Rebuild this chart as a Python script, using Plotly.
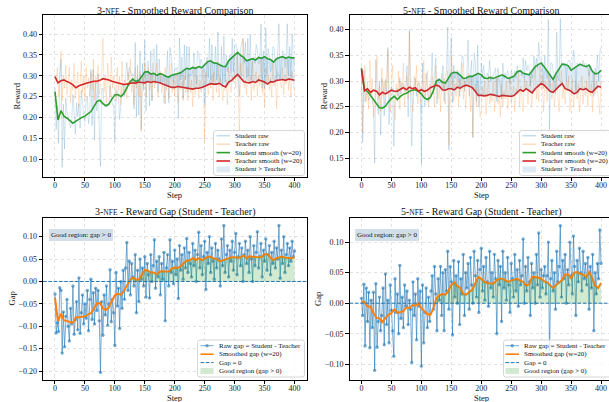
import plotly.graph_objects as go

W, H = 609, 402
FONT = "Liberation Serif"

# ---------------- data ----------------
steps_raw = list(range(0, 401, 2))
steps_smooth = list(range(0, 401, 5))

student_raw_3 = [
    0.272, 0.170, 0.228, 0.138, 0.296, 0.340, 0.080, 0.232, 0.124, 0.247,
    0.215, 0.200, 0.187, 0.175, 0.195, 0.255, 0.212, 0.160, 0.235, 0.202,
    0.233, 0.174, 0.265, 0.230, 0.205, 0.190, 0.238, 0.250, 0.185, 0.210,
    0.315, 0.180, 0.315, 0.145, 0.285, 0.215, 0.305, 0.167, 0.082, 0.270,
    0.270, 0.230, 0.225, 0.225, 0.232, 0.230, 0.276, 0.255, 0.230, 0.230,
    0.142, 0.260, 0.265, 0.250, 0.195, 0.230, 0.275, 0.280, 0.250, 0.300,
    0.332, 0.290, 0.320, 0.310, 0.300, 0.305, 0.220, 0.380, 0.200, 0.325,
    0.205, 0.360, 0.170, 0.330, 0.265, 0.385, 0.215, 0.330, 0.335, 0.228,
    0.360, 0.240, 0.365, 0.363, 0.280, 0.375, 0.260, 0.340, 0.280, 0.300,
    0.285, 0.300, 0.232, 0.295, 0.360, 0.235, 0.368, 0.350, 0.305, 0.285,
    0.320, 0.315, 0.320, 0.197, 0.390, 0.290, 0.345, 0.245, 0.375, 0.290,
    0.371, 0.260, 0.370, 0.300, 0.300, 0.310, 0.355, 0.325, 0.280, 0.360,
    0.355, 0.320, 0.340, 0.330, 0.325, 0.230, 0.292, 0.345, 0.295, 0.390,
    0.290, 0.375, 0.285, 0.315, 0.370, 0.290, 0.405, 0.300, 0.285, 0.370,
    0.275, 0.395, 0.285, 0.350, 0.310, 0.330, 0.350, 0.305, 0.390, 0.310,
    0.375, 0.377, 0.365, 0.295, 0.250, 0.365, 0.375, 0.390, 0.330, 0.380,
    0.295, 0.390, 0.300, 0.400, 0.290, 0.335, 0.345, 0.330, 0.375, 0.361,
    0.330, 0.330, 0.425, 0.270, 0.360, 0.270, 0.415, 0.305, 0.365, 0.345,
    0.310, 0.315, 0.370, 0.365, 0.330, 0.295, 0.360, 0.425, 0.292, 0.340,
    0.360, 0.355, 0.320, 0.340, 0.425, 0.300, 0.370, 0.295, 0.400, 0.340,
    0.328]
teacher_raw_3 = [
    0.300, 0.285, 0.320, 0.250, 0.310, 0.360, 0.240, 0.300, 0.270, 0.325,
    0.255, 0.300, 0.320, 0.235, 0.290, 0.265, 0.330, 0.245, 0.280, 0.310,
    0.225, 0.290, 0.335, 0.260, 0.300, 0.240, 0.320, 0.270, 0.295, 0.250,
    0.310, 0.265, 0.340, 0.240, 0.300, 0.280, 0.325, 0.255, 0.285, 0.315,
    0.390, 0.260, 0.300, 0.235, 0.330, 0.280, 0.250, 0.345, 0.270, 0.300,
    0.285, 0.240, 0.320, 0.265, 0.300, 0.230, 0.335, 0.255, 0.290, 0.270,
    0.245, 0.310, 0.275, 0.340, 0.260, 0.295, 0.230, 0.320, 0.270, 0.300,
    0.250, 0.310, 0.165, 0.300, 0.275, 0.330, 0.250, 0.290, 0.320, 0.265,
    0.300, 0.240, 0.330, 0.270, 0.295, 0.330, 0.250, 0.285, 0.310, 0.260,
    0.280, 0.235, 0.320, 0.265, 0.300, 0.245, 0.275, 0.330, 0.260, 0.290,
    0.250, 0.300, 0.270, 0.235, 0.310, 0.265, 0.285, 0.240, 0.300, 0.260,
    0.275, 0.240, 0.305, 0.260, 0.290, 0.225, 0.320, 0.255, 0.280, 0.300,
    0.245, 0.290, 0.260, 0.315, 0.270, 0.140, 0.310, 0.280, 0.255, 0.290,
    0.270, 0.300, 0.240, 0.310, 0.285, 0.260, 0.335, 0.250, 0.295, 0.275,
    0.240, 0.270, 0.265, 0.290, 0.230, 0.320, 0.280, 0.260, 0.300, 0.285,
    0.310, 0.270, 0.350, 0.240, 0.165, 0.330, 0.300, 0.390, 0.270, 0.290,
    0.255, 0.320, 0.280, 0.300, 0.240, 0.335, 0.265, 0.295, 0.310, 0.250,
    0.300, 0.275, 0.340, 0.260, 0.290, 0.225, 0.320, 0.280, 0.305, 0.265,
    0.295, 0.250, 0.330, 0.275, 0.300, 0.220, 0.310, 0.300, 0.285, 0.270,
    0.320, 0.255, 0.300, 0.280, 0.340, 0.265, 0.295, 0.250, 0.310, 0.285,
    0.260]
student_smooth_3 = [
    0.262, 0.194, 0.216, 0.203, 0.198, 0.192, 0.186, 0.191, 0.196, 0.200,
    0.203, 0.209, 0.214, 0.226, 0.238, 0.241, 0.233, 0.228, 0.232, 0.244,
    0.254, 0.255, 0.250, 0.257, 0.272, 0.285, 0.292, 0.286, 0.289, 0.300,
    0.309, 0.310, 0.304, 0.306, 0.301, 0.305, 0.303, 0.299, 0.297, 0.301,
    0.303, 0.304, 0.307, 0.313, 0.318, 0.316, 0.320, 0.318, 0.322, 0.319,
    0.326, 0.334, 0.336, 0.331, 0.330, 0.327, 0.323, 0.322, 0.336, 0.343,
    0.350, 0.356, 0.349, 0.344, 0.336, 0.339, 0.341, 0.338, 0.344, 0.342,
    0.346, 0.341, 0.339, 0.333, 0.341, 0.344, 0.346, 0.342, 0.345, 0.343,
    0.343]
teacher_smooth_3 = [
    0.298, 0.283, 0.288, 0.290, 0.286, 0.283, 0.278, 0.271, 0.276, 0.279,
    0.281, 0.283, 0.285, 0.287, 0.287, 0.289, 0.293, 0.292, 0.290, 0.287,
    0.285, 0.282, 0.280, 0.279, 0.280, 0.282, 0.283, 0.282, 0.285, 0.284,
    0.283, 0.286, 0.284, 0.286, 0.285, 0.283, 0.280, 0.277, 0.275, 0.272,
    0.272, 0.274, 0.273, 0.272, 0.271, 0.269, 0.268, 0.270, 0.270, 0.272,
    0.275, 0.279, 0.281, 0.280, 0.280, 0.282, 0.276, 0.273, 0.285, 0.289,
    0.296, 0.303, 0.295, 0.286, 0.284, 0.283, 0.286, 0.284, 0.290, 0.287,
    0.285, 0.280, 0.286, 0.285, 0.289, 0.290, 0.291, 0.289, 0.292, 0.291,
    0.289]

student_raw_5 = [
    0.328, 0.180, 0.321, 0.260, 0.285, 0.270, 0.263, 0.267, 0.280, 0.265,
    0.248, 0.140, 0.342, 0.278, 0.235, 0.300, 0.195, 0.305, 0.295, 0.232,
    0.303, 0.275, 0.365, 0.215, 0.270, 0.288, 0.285, 0.173, 0.265, 0.280,
    0.285, 0.270, 0.307, 0.275, 0.295, 0.295, 0.280, 0.285, 0.330, 0.230,
    0.400, 0.270, 0.173, 0.275, 0.290, 0.305, 0.270, 0.295, 0.295, 0.290,
    0.137, 0.335, 0.275, 0.250, 0.315, 0.280, 0.260, 0.265, 0.295, 0.355,
    0.275, 0.310, 0.345, 0.255, 0.305, 0.295, 0.300, 0.295, 0.330, 0.260,
    0.310, 0.320, 0.405, 0.165, 0.350, 0.385, 0.258, 0.330, 0.305, 0.315,
    0.320, 0.318, 0.270, 0.320, 0.350, 0.345, 0.280, 0.295, 0.315, 0.380,
    0.270, 0.315, 0.340, 0.190, 0.355, 0.340, 0.260, 0.370, 0.250, 0.285,
    0.335, 0.310, 0.330, 0.305, 0.310, 0.315, 0.305, 0.340, 0.300, 0.310,
    0.310, 0.320, 0.325, 0.260, 0.325, 0.300, 0.290, 0.265, 0.335, 0.305,
    0.315, 0.305, 0.320, 0.310, 0.295, 0.320, 0.310, 0.300, 0.320, 0.305,
    0.330, 0.315, 0.320, 0.320, 0.310, 0.345, 0.305, 0.340, 0.320, 0.330,
    0.325, 0.290, 0.315, 0.305, 0.350, 0.320, 0.345, 0.325, 0.375, 0.340,
    0.340, 0.335, 0.285, 0.350, 0.315, 0.305, 0.420, 0.205, 0.335, 0.335,
    0.320, 0.300, 0.275, 0.395, 0.305, 0.300, 0.422, 0.330, 0.335, 0.330,
    0.335, 0.300, 0.335, 0.340, 0.340, 0.320, 0.320, 0.360, 0.345, 0.280,
    0.335, 0.330, 0.330, 0.330, 0.330, 0.340, 0.330, 0.335, 0.330, 0.325,
    0.310, 0.330, 0.320, 0.320, 0.270, 0.325, 0.315, 0.350, 0.300, 0.355,
    0.365]
teacher_raw_5 = [
    0.320, 0.200, 0.290, 0.330, 0.260, 0.300, 0.245, 0.340, 0.275, 0.305,
    0.230, 0.250, 0.310, 0.350, 0.265, 0.290, 0.240, 0.325, 0.270, 0.300,
    0.255, 0.310, 0.360, 0.280, 0.240, 0.300, 0.330, 0.260, 0.225, 0.295,
    0.270, 0.320, 0.245, 0.300, 0.285, 0.335, 0.250, 0.290, 0.310, 0.265,
    0.395, 0.280, 0.270, 0.240, 0.310, 0.290, 0.330, 0.255, 0.300, 0.270,
    0.240, 0.305, 0.340, 0.265, 0.290, 0.320, 0.250, 0.295, 0.275, 0.310,
    0.285, 0.250, 0.330, 0.300, 0.265, 0.290, 0.240, 0.315, 0.280, 0.305,
    0.255, 0.300, 0.320, 0.175, 0.290, 0.350, 0.310, 0.260, 0.295, 0.270,
    0.320, 0.250, 0.305, 0.280, 0.335, 0.265, 0.300, 0.245, 0.290, 0.315,
    0.280, 0.240, 0.310, 0.190, 0.270, 0.295, 0.250, 0.300, 0.265, 0.230,
    0.245, 0.290, 0.270, 0.300, 0.235, 0.280, 0.310, 0.255, 0.275, 0.260,
    0.300, 0.240, 0.285, 0.310, 0.255, 0.270, 0.230, 0.295, 0.250, 0.280,
    0.265, 0.300, 0.245, 0.280, 0.310, 0.255, 0.270, 0.290, 0.240, 0.285,
    0.275, 0.320, 0.250, 0.290, 0.265, 0.240, 0.305, 0.280, 0.300, 0.255,
    0.290, 0.310, 0.250, 0.280, 0.300, 0.320, 0.265, 0.295, 0.260, 0.330,
    0.285, 0.310, 0.240, 0.290, 0.300, 0.260, 0.320, 0.290, 0.295, 0.265,
    0.300, 0.250, 0.285, 0.310, 0.270, 0.240, 0.295, 0.320, 0.265, 0.290,
    0.255, 0.300, 0.280, 0.310, 0.240, 0.275, 0.305, 0.250, 0.285, 0.300,
    0.265, 0.295, 0.240, 0.280, 0.310, 0.255, 0.290, 0.270, 0.300, 0.250,
    0.320, 0.270, 0.295, 0.240, 0.315, 0.275, 0.300, 0.285, 0.260, 0.235,
    0.300]
student_smooth_5 = [
    0.325, 0.283, 0.280, 0.272, 0.266, 0.256, 0.248, 0.247, 0.251, 0.259,
    0.266, 0.270, 0.264, 0.270, 0.274, 0.276, 0.280, 0.282, 0.283, 0.280,
    0.275, 0.267, 0.264, 0.268, 0.281, 0.300, 0.303, 0.298, 0.296, 0.305,
    0.315, 0.317, 0.316, 0.311, 0.305, 0.306, 0.309, 0.309, 0.312, 0.315,
    0.312, 0.306, 0.305, 0.307, 0.305, 0.308, 0.310, 0.312, 0.308, 0.305,
    0.307, 0.310, 0.318, 0.320, 0.315, 0.314, 0.312, 0.320, 0.328, 0.332,
    0.335, 0.328, 0.319, 0.310, 0.303, 0.315, 0.324, 0.333, 0.332, 0.330,
    0.321, 0.325, 0.329, 0.333, 0.330, 0.328, 0.331, 0.320, 0.314, 0.315,
    0.321]
teacher_smooth_5 = [
    0.322, 0.281, 0.285, 0.278, 0.282, 0.280, 0.273, 0.278, 0.275, 0.278,
    0.282, 0.280, 0.280, 0.284, 0.287, 0.283, 0.288, 0.285, 0.287, 0.280,
    0.283, 0.280, 0.282, 0.287, 0.290, 0.292, 0.290, 0.283, 0.282, 0.285,
    0.285, 0.283, 0.288, 0.286, 0.290, 0.292, 0.290, 0.287, 0.280, 0.272,
    0.272, 0.271, 0.272, 0.274, 0.273, 0.271, 0.270, 0.272, 0.271, 0.270,
    0.270, 0.272, 0.278, 0.283, 0.280, 0.285, 0.281, 0.277, 0.285, 0.290,
    0.295, 0.292, 0.285, 0.280, 0.278, 0.285, 0.290, 0.295, 0.285, 0.283,
    0.280, 0.275, 0.278, 0.285, 0.283, 0.285, 0.280, 0.278, 0.285, 0.290,
    0.288]

x_ticks = [0, 50, 100, 150, 200, 250, 300, 350, 400]
reward_ticks_3 = [0.10, 0.15, 0.20, 0.25, 0.30, 0.35, 0.40]
reward_ticks_5 = [0.15, 0.20, 0.25, 0.30, 0.35, 0.40]
gap_ticks_3 = [-0.20, -0.15, -0.10, -0.05, 0.00, 0.05, 0.10]
gap_ticks_5 = [-0.10, -0.05, 0.00, 0.05, 0.10]

titles = ["3-<span style='font-size:7.5px'>NFE</span> - Smoothed Reward Comparison",
          "5-<span style='font-size:7.5px'>NFE</span> - Smoothed Reward Comparison",
          "3-<span style='font-size:7.5px'>NFE</span> - Reward Gap (Student - Teacher)",
          "5-<span style='font-size:7.5px'>NFE</span> - Reward Gap (Student - Teacher)"]

# ---------------- helpers ----------------
def X(p):
    return p / W


def Y(p):
    return 1 - p / H


C0 = '#1f77b4'
C1 = '#ff7f0e'
C2 = '#2ca02c'
C3 = '#d62728'
BLUE_RAW = 'rgba(31,119,180,0.2)'
ORANGE_RAW = 'rgba(255,127,14,0.2)'
BLUE_FILL = 'rgba(31,119,180,0.15)'
GREEN_FILL = 'rgba(44,160,44,0.22)'
GAP_COL = 'rgba(31,119,180,0.6)'
GRID = '#e2e2e2'


def runs(mask):
    out, start = [], None
    for i, m in enumerate(mask):
        if m and start is None:
            start = i
        if not m and start is not None:
            out.append((start, i - 1))
            start = None
    if start is not None:
        out.append((start, len(mask) - 1))
    return out


def band(xs, upper, lower, mask):
    bx, by = [], []
    for a, b in runs(mask):
        seg_x = xs[a:b + 1]
        bx += seg_x + seg_x[::-1] + [None]
        by += upper[a:b + 1] + lower[a:b + 1][::-1] + [None]
    return bx, by


fig = go.Figure()

# domains (pixels -> paper)
LX = [X(43), X(306.5)]
RX = [X(349.5), 1.0]
TY = [Y(176.7), Y(15)]
BY = [Y(380), Y(218.3)]

panels = [
    ('x', 'y', student_raw_3, teacher_raw_3, student_smooth_3, teacher_smooth_3),
    ('x2', 'y2', student_raw_5, teacher_raw_5, student_smooth_5, teacher_smooth_5),
]
for xa, ya, s_raw, t_raw, s_sm, t_sm in panels:
    fig.add_trace(go.Scatter(x=steps_raw, y=s_raw, mode='lines', xaxis=xa, yaxis=ya,
                             line=dict(color=BLUE_RAW, width=1), showlegend=False, hoverinfo='skip'))
    fig.add_trace(go.Scatter(x=steps_raw, y=t_raw, mode='lines', xaxis=xa, yaxis=ya,
                             line=dict(color=ORANGE_RAW, width=1), showlegend=False, hoverinfo='skip'))
    fig.add_trace(go.Scatter(x=steps_smooth, y=s_sm, mode='lines', xaxis=xa, yaxis=ya,
                             line=dict(color=C2, width=1.6), showlegend=False))
    fig.add_trace(go.Scatter(x=steps_smooth, y=t_sm, mode='lines', xaxis=xa, yaxis=ya,
                             line=dict(color=C3, width=1.6), showlegend=False))
    bx, by = band(steps_smooth, s_sm, t_sm, [a > b for a, b in zip(s_sm, t_sm)])
    fig.add_trace(go.Scatter(x=bx, y=by, mode='lines', fill='toself', fillcolor=BLUE_FILL,
                             line=dict(width=0, color='rgba(0,0,0,0)'), xaxis=xa, yaxis=ya,
                             showlegend=False, hoverinfo='skip'))

gap_panels = [
    ('x3', 'y3', student_raw_3, teacher_raw_3, student_smooth_3, teacher_smooth_3),
    ('x4', 'y4', student_raw_5, teacher_raw_5, student_smooth_5, teacher_smooth_5),
]
for xa, ya, s_raw, t_raw, s_sm, t_sm in gap_panels:
    gap_raw = [round(a - b, 4) for a, b in zip(s_raw, t_raw)]
    gap_sm = [round(a - b, 4) for a, b in zip(s_sm, t_sm)]
    fig.add_trace(go.Scatter(x=steps_raw, y=gap_raw, mode='lines+markers', xaxis=xa, yaxis=ya,
                             line=dict(color=GAP_COL, width=1),
                             marker=dict(color=GAP_COL, size=3.4, line=dict(width=0)),
                             showlegend=False))
    fig.add_trace(go.Scatter(x=steps_smooth, y=gap_sm, mode='lines', xaxis=xa, yaxis=ya,
                             line=dict(color=C1, width=2), showlegend=False))
    zeros = [0.0] * len(gap_sm)
    bx, by = band(steps_smooth, gap_sm, zeros, [g > 0 for g in gap_sm])
    fig.add_trace(go.Scatter(x=bx, y=by, mode='lines', fill='toself', fillcolor=GREEN_FILL,
                             line=dict(width=0, color='rgba(0,0,0,0)'), xaxis=xa, yaxis=ya,
                             showlegend=False, hoverinfo='skip'))
    fig.add_shape(type='line', xref=xa + ' domain', yref=ya, x0=0, x1=1, y0=0, y1=0,
                  line=dict(color=C0, width=1, dash='3.7px,1.6px'))

TICKFONT = dict(family=FONT, size=8, color='#222')


def xaxis(domain, rng, anchor):
    return dict(domain=domain, range=rng, anchor=anchor, tickvals=x_ticks, automargin=False,
                ticks='outside', ticklen=3.5, tickwidth=0.8, tickcolor='black',
                ticklabelstandoff=-3,
                showline=True, linecolor='black', linewidth=0.9, mirror=True,
                showgrid=True, gridcolor=GRID, griddash='dot', gridwidth=0.8,
                zeroline=False, tickfont=TICKFONT)


def yaxis(domain, rng, anchor, tickvals, mirror):
    return dict(domain=domain, range=rng, anchor=anchor, tickvals=tickvals, tickformat='.2f',
                automargin=False,
                ticks='outside', ticklen=3.5, tickwidth=0.8, tickcolor='black',
                showline=True, linecolor='black', linewidth=0.9, mirror=mirror,
                showgrid=True, gridcolor=GRID, griddash='dot', gridwidth=0.8,
                zeroline=False, tickfont=TICKFONT)


fig.update_layout(
    width=W, height=H, autosize=False,
    margin=dict(l=0, r=0, t=0, b=0),
    paper_bgcolor='white', plot_bgcolor='white',
    font=dict(family=FONT, color='#222'),
    showlegend=False,
    xaxis=xaxis(LX, [-20, 420], 'y'),
    yaxis=yaxis(TY, [0.0575, 0.446], 'x', reward_ticks_3, True),
    xaxis2=xaxis(RX, [-20, 413.3], 'y2'),
    yaxis2=yaxis(TY, [0.1136, 0.4286], 'x2', reward_ticks_5, False),
    xaxis3=xaxis(LX, [-20, 420], 'y3'),
    yaxis3=yaxis(BY, [-0.220, 0.141], 'x3', gap_ticks_3, True),
    xaxis4=xaxis(RX, [-20, 413.3], 'y4'),
    yaxis4=yaxis(BY, [-0.1257, 0.139], 'x4', gap_ticks_5, False),
)

ann = []


def text(x, y, s, size, xanchor='center', yanchor='middle', angle=0, **kw):
    ann.append(dict(x=X(x), y=Y(y), xref='paper', yref='paper', text=s, showarrow=False,
                    xanchor=xanchor, yanchor=yanchor, textangle=angle,
                    font=dict(family=FONT, size=size, color='#111'), **kw))


# titles
text(174.7, 10.5, titles[0], 10)
text(481, 10.5, titles[1], 10)
text(174.7, 212.5, titles[2], 10)
text(481, 212.5, titles[3], 10)
# axis labels
for cx in (174.7, 481):
    text(cx, 195, 'Step', 8.5)
    text(cx, 397.5, 'Step', 8.5)
text(16.5, 96, 'Reward', 8.5, angle=-90)
text(323.5, 96, 'Reward', 8.5, angle=-90)
text(11.5, 299, 'Gap', 8.5, angle=-90)
text(318, 299, 'Gap', 8.5, angle=-90)

# "Good region" boxes
for bx0 in (49, 355):
    ann.append(dict(x=X(bx0), y=Y(235), xref='paper', yref='paper', text='Good region: gap > 0',
                    showarrow=False, xanchor='left', yanchor='middle',
                    font=dict(family=FONT, size=7, color='#111'),
                    bgcolor='#d3dfe8', borderpad=2, borderwidth=0))

shapes = []


def rounded_box(x0, y0, x1, y1, r=2.5):
    rx, ry = r / W, r / H
    a0, a1 = X(x0), X(x1)
    b0, b1 = Y(y0), Y(y1)  # b0 top, b1 bottom
    path = (f"M {a0 + rx},{b0} L {a1 - rx},{b0} Q {a1},{b0} {a1},{b0 - ry} "
            f"L {a1},{b1 + ry} Q {a1},{b1} {a1 - rx},{b1} L {a0 + rx},{b1} "
            f"Q {a0},{b1} {a0},{b1 + ry} L {a0},{b0 - ry} Q {a0},{b0} {a0 + rx},{b0} Z")
    shapes.append(dict(type='path', xref='paper', yref='paper', path=path,
                       fillcolor='rgba(255,255,255,0.8)', line=dict(color='#cccccc', width=0.8)))


def legend(box, rows, hx, tx, entries):
    rounded_box(*box)
    for (kind, col, label), ry in zip(entries, rows):
        if kind in ('line', 'dash', 'marker'):
            shapes.append(dict(type='line', xref='paper', yref='paper', x0=X(hx[0]), x1=X(hx[1]),
                               y0=Y(ry), y1=Y(ry),
                               line=dict(color=col, width=1.6 if kind == 'line' else 1,
                                         dash='3.7px,1.6px' if kind == 'dash' else 'solid')))
            if kind == 'marker':
                cx = (hx[0] + hx[1]) / 2
                shapes.append(dict(type='circle', xref='paper', yref='paper',
                                   x0=X(cx - 1.7), x1=X(cx + 1.7), y0=Y(ry + 1.7), y1=Y(ry - 1.7),
                                   fillcolor=col, line=dict(width=0)))
        else:
            shapes.append(dict(type='rect', xref='paper', yref='paper', x0=X(hx[0]), x1=X(hx[1]),
                               y0=Y(ry + 3), y1=Y(ry - 3), fillcolor=col, line=dict(width=0)))
        text(tx, ry, label, 7, xanchor='left')


top_entries = [('line', 'rgba(31,119,180,0.25)', 'Student raw'),
               ('line', 'rgba(255,127,14,0.25)', 'Teacher raw'),
               ('line', C2, 'Student smooth (w=20)'),
               ('line', C3, 'Teacher smooth (w=20)'),
               ('patch', BLUE_FILL, 'Student > Teacher')]
bot_entries = [('marker', GAP_COL, 'Raw gap = Student - Teacher'),
               ('line', C1, 'Smoothed gap (w=20)'),
               ('dash', C0, 'Gap = 0'),
               ('patch', GREEN_FILL, 'Good region (gap > 0)')]
top_rows = [135.7, 144.2, 152.6, 161.0, 169.4]
bot_rows = [345.7, 354.2, 362.6, 371.0]

legend((213.5, 130.5, 304.5, 175.5), top_rows, (216.5, 230), 232.5, top_entries)
legend((519.5, 130.5, 614, 175.5), top_rows, (522.5, 536), 538.5, top_entries)
legend((197.5, 340, 304.5, 377), bot_rows, (200.5, 213.5), 216.5, bot_entries)
legend((503.5, 340, 614, 377), bot_rows, (505.5, 519), 522, bot_entries)

fig.update_layout(annotations=ann, shapes=fig.layout.shapes + tuple(shapes))

fig.write_html("out.html", config={'displayModeBar': False},
               post_script="document.body.style.margin='0px';document.body.style.overflow='hidden';")
